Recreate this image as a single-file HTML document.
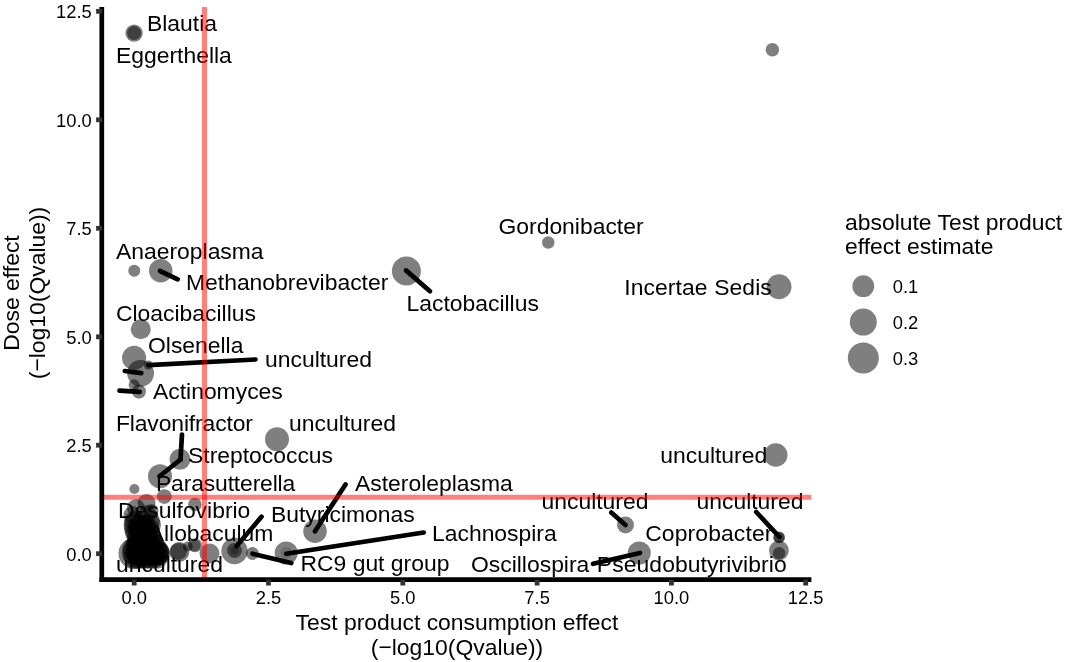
<!DOCTYPE html>
<html><head><meta charset="utf-8"><title>plot</title>
<style>
html,body{margin:0;padding:0;background:#fff;}
body{width:1065px;height:662px;overflow:hidden;}
svg{display:block;font-family:"Liberation Sans",Arial,sans-serif;}
.lab{font-size:22.9px;fill:#000;}
.tick{font-size:18.33px;fill:#000;}
.ttl{font-size:22.9px;fill:#000;}
.leg{font-size:18.33px;fill:#000;}
</style></head><body>
<svg width="1065" height="662" viewBox="0 0 1065 662">
<rect width="1065" height="662" fill="#fff"/>

<g fill="#000">
<circle cx="134.1" cy="33.1" r="8.7" fill-opacity="0.5"/>
<circle cx="134.1" cy="33.1" r="7" fill-opacity="0.5"/>
<circle cx="772.4" cy="49.8" r="6.8" fill-opacity="0.5"/>
<circle cx="548.25" cy="242.5" r="6.25" fill-opacity="0.5"/>
<circle cx="134.25" cy="270.75" r="6" fill-opacity="0.5"/>
<circle cx="160.75" cy="270.75" r="11.75" fill-opacity="0.5"/>
<circle cx="406.4" cy="270.9" r="14.5" fill-opacity="0.5"/>
<circle cx="779" cy="286.75" r="12.5" fill-opacity="0.5"/>
<circle cx="140.75" cy="329.25" r="10" fill-opacity="0.5"/>
<circle cx="134.1" cy="357.9" r="12.05" fill-opacity="0.5"/>
<circle cx="140.6" cy="373.3" r="13.4" fill-opacity="0.5"/>
<circle cx="148.4" cy="365.1" r="4.6" fill-opacity="0.5"/>
<circle cx="134.1" cy="384.8" r="5.5" fill-opacity="0.5"/>
<circle cx="138.9" cy="391.6" r="7.1" fill-opacity="0.5"/>
<circle cx="277" cy="439.25" r="12" fill-opacity="0.5"/>
<circle cx="180" cy="459.25" r="10.5" fill-opacity="0.5"/>
<circle cx="160" cy="476.25" r="12" fill-opacity="0.5"/>
<circle cx="775.75" cy="455" r="11.75" fill-opacity="0.5"/>
<circle cx="134.4" cy="489" r="5" fill-opacity="0.5"/>
<circle cx="164.3" cy="496.6" r="7.4" fill-opacity="0.5"/>
<circle cx="146.5" cy="503" r="9" fill-opacity="0.5"/>
<circle cx="194.9" cy="504.5" r="6.8" fill-opacity="0.5"/>
<circle cx="315" cy="531.25" r="11.75" fill-opacity="0.5"/>
<circle cx="625.5" cy="525" r="8.5" fill-opacity="0.5"/>
<circle cx="639.25" cy="553" r="11.5" fill-opacity="0.5"/>
<circle cx="779.1" cy="537.4" r="5.9" fill-opacity="0.5"/>
<circle cx="779.1" cy="537.4" r="5.5" fill-opacity="0.5"/>
<circle cx="778.9" cy="550.5" r="9.9" fill-opacity="0.5"/>
<circle cx="779.1" cy="553.2" r="6.2" fill-opacity="0.5"/>
<circle cx="234.5" cy="551" r="13.2" fill-opacity="0.5"/>
<circle cx="234.5" cy="550.5" r="7.5" fill-opacity="0.5"/>
<circle cx="234.5" cy="550.5" r="4" fill-opacity="0.3"/>
<circle cx="252.5" cy="553.5" r="6.5" fill-opacity="0.5"/>
<circle cx="286.2" cy="553" r="11.5" fill-opacity="0.5"/>
<circle cx="286.2" cy="553" r="6" fill-opacity="0.15"/>
<circle cx="209.5" cy="553.6" r="10" fill-opacity="0.5"/>
<circle cx="179.3" cy="552" r="10" fill-opacity="0.5"/>
<circle cx="178.5" cy="551.5" r="8.5" fill-opacity="0.5"/>
<circle cx="194.9" cy="545.2" r="7" fill-opacity="0.5"/>
<circle cx="194.5" cy="545.5" r="6" fill-opacity="0.35"/>
<circle cx="187.8" cy="546.5" r="5" fill-opacity="0.5"/>
<circle cx="134" cy="553.5" r="15.5" fill-opacity="0.5"/>
<circle cx="135" cy="557" r="11.5" fill-opacity="0.5"/>
<circle cx="138.6" cy="557" r="11.5" fill-opacity="0.5"/>
<circle cx="142.2" cy="557" r="11.5" fill-opacity="0.5"/>
<circle cx="145.8" cy="557" r="11.5" fill-opacity="0.5"/>
<circle cx="149.4" cy="557" r="11.5" fill-opacity="0.5"/>
<circle cx="153.0" cy="557" r="11.5" fill-opacity="0.5"/>
<circle cx="156.6" cy="557" r="11.5" fill-opacity="0.5"/>
<circle cx="134" cy="553" r="12" fill-opacity="0.5"/>
<circle cx="137.6" cy="553" r="12" fill-opacity="0.5"/>
<circle cx="141.2" cy="553" r="12" fill-opacity="0.5"/>
<circle cx="144.8" cy="553" r="12" fill-opacity="0.5"/>
<circle cx="148.4" cy="553" r="12" fill-opacity="0.5"/>
<circle cx="152.0" cy="553" r="12" fill-opacity="0.5"/>
<circle cx="155.6" cy="553" r="12" fill-opacity="0.5"/>
<circle cx="134" cy="549" r="11.5" fill-opacity="0.5"/>
<circle cx="137.6" cy="549" r="11.5" fill-opacity="0.5"/>
<circle cx="141.2" cy="549" r="11.5" fill-opacity="0.5"/>
<circle cx="144.8" cy="549" r="11.5" fill-opacity="0.5"/>
<circle cx="148.4" cy="549" r="11.5" fill-opacity="0.5"/>
<circle cx="152.0" cy="549" r="11.5" fill-opacity="0.5"/>
<circle cx="155.6" cy="549" r="11.5" fill-opacity="0.5"/>
<circle cx="136" cy="545" r="10.5" fill-opacity="0.5"/>
<circle cx="139.6" cy="545" r="10.5" fill-opacity="0.5"/>
<circle cx="143.2" cy="545" r="10.5" fill-opacity="0.5"/>
<circle cx="146.8" cy="545" r="10.5" fill-opacity="0.5"/>
<circle cx="150.4" cy="545" r="10.5" fill-opacity="0.5"/>
<circle cx="154.0" cy="545" r="10.5" fill-opacity="0.5"/>
<circle cx="137" cy="541" r="10" fill-opacity="0.5"/>
<circle cx="140.6" cy="541" r="10" fill-opacity="0.5"/>
<circle cx="144.2" cy="541" r="10" fill-opacity="0.5"/>
<circle cx="147.8" cy="541" r="10" fill-opacity="0.5"/>
<circle cx="151.4" cy="541" r="10" fill-opacity="0.5"/>
<circle cx="137" cy="537" r="10" fill-opacity="0.5"/>
<circle cx="140.6" cy="537" r="10" fill-opacity="0.5"/>
<circle cx="144.2" cy="537" r="10" fill-opacity="0.5"/>
<circle cx="147.8" cy="537" r="10" fill-opacity="0.5"/>
<circle cx="151.4" cy="537" r="10" fill-opacity="0.5"/>
<circle cx="135.5" cy="533" r="10.5" fill-opacity="0.5"/>
<circle cx="139.1" cy="533" r="10.5" fill-opacity="0.5"/>
<circle cx="142.7" cy="533" r="10.5" fill-opacity="0.5"/>
<circle cx="146.3" cy="533" r="10.5" fill-opacity="0.5"/>
<circle cx="149.9" cy="533" r="10.5" fill-opacity="0.5"/>
<circle cx="134.5" cy="529" r="10.5" fill-opacity="0.5"/>
<circle cx="138.1" cy="529" r="10.5" fill-opacity="0.5"/>
<circle cx="141.7" cy="529" r="10.5" fill-opacity="0.5"/>
<circle cx="145.3" cy="529" r="10.5" fill-opacity="0.5"/>
<circle cx="148.9" cy="529" r="10.5" fill-opacity="0.5"/>
<circle cx="134" cy="525" r="10.5" fill-opacity="0.5"/>
<circle cx="139.5" cy="525" r="10.5" fill-opacity="0.5"/>
<circle cx="145.0" cy="525" r="10.5" fill-opacity="0.5"/>
<circle cx="150.5" cy="525" r="10.5" fill-opacity="0.5"/>
<circle cx="134" cy="521" r="10" fill-opacity="0.5"/>
<circle cx="142" cy="521" r="10" fill-opacity="0.5"/>
<circle cx="150" cy="521" r="10" fill-opacity="0.5"/>
<circle cx="157.5" cy="553" r="12.3" fill-opacity="0.5"/>
<circle cx="157.5" cy="553.5" r="12" fill-opacity="0.5"/>
<circle cx="156.5" cy="552" r="12.5" fill-opacity="0.5"/>
<circle cx="132.5" cy="515" r="9" fill-opacity="0.5"/>
<circle cx="147.5" cy="514" r="9" fill-opacity="0.5"/>
<circle cx="136" cy="508" r="9" fill-opacity="0.5"/>
<circle cx="151.5" cy="511" r="7" fill-opacity="0.5"/>
</g>
<g stroke="#000" stroke-width="4.7" stroke-linecap="round">
<line x1="160" y1="271" x2="177.7" y2="279.3"/>
<line x1="406" y1="270.4" x2="430" y2="291.2"/>
<line x1="124.8" y1="371" x2="141.3" y2="373.2"/>
<line x1="148.4" y1="365.1" x2="255.5" y2="359.5"/>
<line x1="119.5" y1="390.7" x2="139.7" y2="391.8"/>
<line x1="182" y1="434.5" x2="180.5" y2="459.5"/>
<line x1="180.5" y1="459.5" x2="159.5" y2="476.25"/>
<line x1="345.5" y1="484.5" x2="315" y2="531.25"/>
<line x1="261.5" y1="516.8" x2="236.6" y2="546"/>
<line x1="252.5" y1="553.75" x2="291.25" y2="563"/>
<line x1="286.25" y1="553.75" x2="423.75" y2="532.5"/>
<line x1="611.25" y1="512.5" x2="625.5" y2="525"/>
<line x1="593" y1="563.75" x2="640" y2="553"/>
<line x1="756.25" y1="512" x2="779.5" y2="537"/>
</g>
<g class="lab">
<text x="147" y="30.5">Blautia</text>
<text x="116" y="62.5">Eggerthella</text>
<text x="116" y="258.75">Anaeroplasma</text>
<text x="186" y="289.5">Methanobrevibacter</text>
<text x="406.5" y="310.5">Lactobacillus</text>
<text x="498.5" y="234.25">Gordonibacter</text>
<text x="624.2" y="295" style="letter-spacing:0.1px">Incertae Sedis</text>
<text x="116" y="320.5">Cloacibacillus</text>
<text x="148" y="353">Olsenella</text>
<text x="265" y="367">uncultured</text>
<text x="153" y="398.75">Actinomyces</text>
<text x="115.9" y="431" style="letter-spacing:-0.12px">Flavonifractor</text>
<text x="289" y="431">uncultured</text>
<text x="188" y="463">Streptococcus</text>
<text x="156" y="490.5" style="letter-spacing:-0.15px">Parasutterella</text>
<text x="355" y="490.5">Asteroleplasma</text>
<text x="118" y="518">Desulfovibrio</text>
<text x="271" y="521.5">Butyricimonas</text>
<text x="148.7" y="540.5">Allobaculum</text>
<text x="432" y="540.75">Lachnospira</text>
<text x="116" y="572">uncultured</text>
<text x="300.5" y="570.75">RC9 gut group</text>
<text x="471" y="572.2">Oscillospira</text>
<text x="596.8" y="572" style="letter-spacing:0.09px">Pseudobutyrivibrio</text>
<text x="645.2" y="540.75" style="letter-spacing:0.12px">Coprobacter</text>
<text x="541.5" y="509">uncultured</text>
<text x="696.5" y="508.75">uncultured</text>
<text x="660.25" y="462.5">uncultured</text>
</g>
<g stroke="#ff0000" stroke-opacity="0.5" stroke-width="5.1">
<line x1="204.5" y1="7.0" x2="204.5" y2="579.7"/>
<line x1="102.0" y1="497.3" x2="811.4" y2="497.3"/>
</g>
<g stroke="#000" stroke-width="4.7" fill="none">
<line x1="101.8" y1="7.0" x2="101.8" y2="582.0"/>
<line x1="99.5" y1="579.6" x2="811.4" y2="579.6"/>
</g>
<g stroke="#333" stroke-width="4.8" fill="none">
<line x1="134.2" y1="579.7" x2="134.2" y2="585.5"/>
<line x1="96.1" y1="553.7" x2="102.0" y2="553.7"/>
<line x1="268.5" y1="579.7" x2="268.5" y2="585.5"/>
<line x1="96.1" y1="445.2" x2="102.0" y2="445.2"/>
<line x1="402.8" y1="579.7" x2="402.8" y2="585.5"/>
<line x1="96.1" y1="336.8" x2="102.0" y2="336.8"/>
<line x1="537.1" y1="579.7" x2="537.1" y2="585.5"/>
<line x1="96.1" y1="228.3" x2="102.0" y2="228.3"/>
<line x1="671.4" y1="579.7" x2="671.4" y2="585.5"/>
<line x1="96.1" y1="119.8" x2="102.0" y2="119.8"/>
<line x1="805.7" y1="579.7" x2="805.7" y2="585.5"/>
<line x1="96.1" y1="11.3" x2="102.0" y2="11.3"/>
</g>
<g class="tick">
<text x="134.2" y="604.2" text-anchor="middle">0.0</text>
<text x="91.7" y="560.6" text-anchor="end">0.0</text>
<text x="268.5" y="604.2" text-anchor="middle">2.5</text>
<text x="91.7" y="452.1" text-anchor="end">2.5</text>
<text x="402.8" y="604.2" text-anchor="middle">5.0</text>
<text x="91.7" y="343.7" text-anchor="end">5.0</text>
<text x="537.1" y="604.2" text-anchor="middle">7.5</text>
<text x="91.7" y="235.2" text-anchor="end">7.5</text>
<text x="671.4" y="604.2" text-anchor="middle">10.0</text>
<text x="91.7" y="126.7" text-anchor="end">10.0</text>
<text x="805.7" y="604.2" text-anchor="middle">12.5</text>
<text x="91.7" y="18.2" text-anchor="end">12.5</text>
</g>
<g class="ttl">
<text x="457" y="629.7" text-anchor="middle">Test product consumption effect</text>
<text x="457" y="654.8" text-anchor="middle">(−log10(Qvalue))</text>
<text transform="translate(19.1,293) rotate(-90)" text-anchor="middle">Dose effect</text>
<text transform="translate(44.5,293) rotate(-90)" text-anchor="middle">(−log10(Qvalue))</text>
<text x="845" y="229.8">absolute Test product</text>
<text x="845" y="254.2">effect estimate</text>
</g>
<g fill="#000" fill-opacity="0.5">
<circle cx="863.3" cy="286.2" r="10.9"/><circle cx="863.3" cy="322.1" r="13.5"/><circle cx="863.3" cy="358" r="15.5"/>
</g>
<g class="leg">
<text x="892.8" y="292.8">0.1</text>
<text x="892.8" y="328.8">0.2</text>
<text x="892.8" y="364.8">0.3</text>
</g>
</svg></body></html>
